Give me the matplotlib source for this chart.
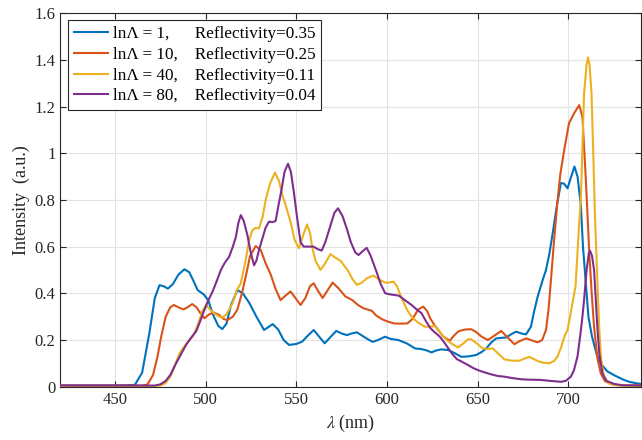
import numpy as np
import matplotlib
matplotlib.use("Agg")
import matplotlib.pyplot as plt

# =========================
# Data
# =========================
wl_ln1 = [420, 455, 461, 465, 469, 472, 474.6, 477, 479.2, 482, 485, 488.3, 491, 493.5, 495.6, 499,
          501.5, 504, 507, 509.2, 511.5, 514, 517.5, 520.5, 524, 528, 532.2, 537, 540, 543, 546, 550,
          553.2, 556.5, 559.6, 562.5, 565.6, 568.5, 572, 575, 577.9, 580.5, 583.4, 588, 592, 595,
          598.9, 602, 606.2, 611, 615.4, 619, 622, 624.5, 627, 630, 633.7, 637, 641, 645, 649.2, 652,
          654.7, 657.5, 660.2, 665.6, 668.5, 671.1, 674, 676.6, 679.3, 681, 683, 685.5, 687.6, 689.5,
          691.3, 693.5, 695.8, 697.5, 699.5, 701.5, 703.3, 705, 706.8, 708, 709.5, 711, 713, 715.5,
          717.7, 721.4, 725, 730.6, 734, 738, 740]
int_ln1 = [0.005, 0.005, 0.008, 0.06, 0.23, 0.38, 0.435, 0.43, 0.42, 0.44, 0.48, 0.503, 0.49, 0.45,
           0.414, 0.395, 0.37, 0.31, 0.26, 0.247, 0.27, 0.35, 0.414, 0.40, 0.36, 0.30, 0.243, 0.268,
           0.245, 0.20, 0.179, 0.183, 0.193, 0.22, 0.243, 0.215, 0.186, 0.21, 0.239, 0.228, 0.221,
           0.228, 0.233, 0.21, 0.192, 0.20, 0.214, 0.205, 0.20, 0.185, 0.164, 0.161, 0.155, 0.147,
           0.155, 0.16, 0.157, 0.145, 0.128, 0.13, 0.136, 0.148, 0.164, 0.19, 0.207, 0.211, 0.225,
           0.236, 0.228, 0.224, 0.257, 0.32, 0.385, 0.45, 0.50, 0.57, 0.657, 0.77, 0.872, 0.87, 0.85,
           0.90, 0.943, 0.90, 0.78, 0.60, 0.45, 0.30, 0.214, 0.14, 0.10, 0.066, 0.05, 0.029, 0.02,
           0.014, 0.012]

wl_ln10 = [420, 465, 468, 471, 473.5, 475.5, 478, 480.5, 482.5, 485, 487.8, 490, 492.6, 495, 497.5,
           499.3, 502, 504.5, 507.5, 510, 512, 515, 517.5, 520, 522.1, 524.5, 527.6, 530.4, 533,
           535.9, 538.5, 541.3, 544, 546.8, 549.5, 552.3, 555, 557.5, 559.6, 562, 564.5, 567, 570,
           573.3, 577, 581, 584, 587, 591.6, 594, 597, 600, 603.8, 607, 611.2, 614, 617.2, 620, 622,
           623.8, 626, 628.2, 631, 634.6, 637, 639.5, 643, 646.4, 649, 652, 655.6, 658.5, 662.9, 666,
           670.2, 673, 676.6, 680, 683, 685.5, 687.6, 689, 690.2, 692, 693.9, 695.5, 697.6, 700.3,
           703.1, 705.9, 707.7, 709.5, 711.4, 712.8, 714.1, 716, 717.8, 720, 723.3, 728, 740]
int_ln10 = [0.005, 0.005, 0.01, 0.05, 0.13, 0.214, 0.30, 0.34, 0.35, 0.34, 0.331, 0.34, 0.354, 0.34,
            0.31, 0.293, 0.31, 0.318, 0.307, 0.29, 0.285, 0.30, 0.33, 0.40, 0.471, 0.56, 0.602,
            0.585, 0.53, 0.48, 0.42, 0.371, 0.39, 0.408, 0.38, 0.35, 0.38, 0.43, 0.443, 0.41, 0.38,
            0.41, 0.446, 0.421, 0.387, 0.37, 0.35, 0.336, 0.325, 0.305, 0.29, 0.28, 0.271, 0.27,
            0.271, 0.29, 0.331, 0.343, 0.325, 0.293, 0.265, 0.243, 0.215, 0.197, 0.22, 0.238, 0.245,
            0.246, 0.235, 0.215, 0.20, 0.215, 0.239, 0.215, 0.182, 0.195, 0.207, 0.198, 0.19, 0.20,
            0.243, 0.33, 0.443, 0.62, 0.79, 0.91, 1.012, 1.128, 1.171, 1.206, 1.156, 0.90, 0.585,
            0.40, 0.257, 0.12, 0.057, 0.025, 0.012, 0.006, 0.005]

wl_ln40 = [420, 470, 475, 478, 481, 483.5, 485.6, 489, 492.8, 495.5, 498, 500.2, 502.5, 504.8, 507.5,
           509.3, 511.5, 514.8, 517, 519.4, 522.1, 524, 525.8, 527.5, 529.4, 531.5, 533.1, 535.5,
           538.2, 540.5, 542.3, 544.1, 547, 549, 551.4, 553.8, 555.9, 557.5, 558.7, 560.5, 563.3,
           566, 568.8, 571, 574.3, 576.1, 578.8, 581, 583.4, 586, 589, 592.5, 595.5, 598.9, 601,
           603.5, 605.5, 607.5, 609, 611, 613.5, 617, 620.9, 623.5, 626.3, 628.5, 631, 633.7, 636.5,
           639.1, 642, 644.6, 646.4, 649.5, 652.8, 655.5, 658.3, 661.5, 664.7, 668.5, 672.9, 675.5,
           678.4, 681, 683, 686, 689.4, 692, 693.9, 696, 698, 699.5, 702.2, 703.9, 705.9, 706.8,
           708.6, 710, 710.8, 711.6, 712.7, 713.5, 714.5, 715.7, 716.9, 718, 719.6, 722, 725.1, 740]
int_ln40 = [0.002, 0.002, 0.005, 0.015, 0.05, 0.10, 0.143, 0.18, 0.214, 0.26, 0.32, 0.35, 0.33,
            0.314, 0.30, 0.296, 0.31, 0.357, 0.41, 0.443, 0.543, 0.628, 0.671, 0.68, 0.678, 0.73,
            0.80, 0.87, 0.917, 0.88, 0.82, 0.778, 0.70, 0.63, 0.593, 0.65, 0.695, 0.66, 0.60, 0.54,
            0.50, 0.53, 0.568, 0.555, 0.54, 0.521, 0.493, 0.46, 0.436, 0.445, 0.465, 0.476, 0.46,
            0.446, 0.446, 0.45, 0.43, 0.39, 0.364, 0.33, 0.30, 0.275, 0.257, 0.257, 0.26, 0.24,
            0.215, 0.195, 0.18, 0.168, 0.185, 0.203, 0.203, 0.185, 0.164, 0.162, 0.164, 0.14, 0.117,
            0.112, 0.111, 0.12, 0.128, 0.118, 0.11, 0.103, 0.10, 0.11, 0.128, 0.17, 0.22, 0.243,
            0.357, 0.43, 0.70, 0.80, 1.256, 1.38, 1.41, 1.38, 1.256, 1.05, 0.757, 0.50, 0.257, 0.12,
            0.043, 0.015, 0.007, 0.002]

wl_ln80 = [420, 472, 475, 478, 480.5, 483.7, 486.5, 489.2, 492, 494.7, 497, 499.3, 501.5, 503.8, 506,
           508.4, 510.5, 513, 515, 516.7, 518, 519.4, 521, 523, 525, 526.7, 528, 529.4, 531.3, 533,
           534.9, 537, 538.6, 540, 541.8, 543.5, 545.4, 547, 548.6, 550.5, 552.3, 554, 555.9, 557.8,
           559.6, 561.5, 564, 566, 568.8, 571, 573, 575.5, 577.9, 580, 582.5, 584.3, 586.5, 588.8,
           591, 594.3, 596.5, 599, 602, 606.5, 610, 613.5, 616.5, 619, 621.5, 623.8, 626, 629, 631.5,
           633.7, 636, 638.5, 641, 644.6, 647.5, 650.1, 653.5, 657.4, 661, 664.7, 669, 673.9, 679,
           684.8, 690, 695.8, 698.5, 701.3, 703, 705, 706.5, 707.7, 708.6, 710, 711.2, 711.9, 713,
           714.1, 715, 715.9, 717, 718.7, 721, 725.1, 730, 740]
int_ln80 = [0.005, 0.005, 0.01, 0.025, 0.05, 0.10, 0.14, 0.179, 0.21, 0.236, 0.28, 0.329, 0.37,
            0.407, 0.45, 0.50, 0.53, 0.557, 0.60, 0.642, 0.70, 0.735, 0.71, 0.65, 0.57, 0.52, 0.54,
            0.585, 0.635, 0.68, 0.707, 0.705, 0.71, 0.77, 0.842, 0.92, 0.955, 0.92, 0.835, 0.72,
            0.62, 0.60, 0.60, 0.60, 0.60, 0.59, 0.583, 0.62, 0.69, 0.745, 0.764, 0.73, 0.675, 0.62,
            0.575, 0.564, 0.58, 0.595, 0.56, 0.49, 0.44, 0.40, 0.395, 0.39, 0.37, 0.35, 0.33, 0.315,
            0.28, 0.252, 0.235, 0.215, 0.19, 0.165, 0.14, 0.118, 0.108, 0.093, 0.08, 0.071, 0.062,
            0.053, 0.046, 0.043, 0.037, 0.032, 0.03, 0.029, 0.025, 0.021, 0.025, 0.043, 0.07, 0.13,
            0.22, 0.30, 0.371, 0.50, 0.57, 0.582, 0.56, 0.50, 0.38, 0.257, 0.14, 0.057, 0.025,
            0.012, 0.006, 0.005]

labels = ["ln\u039b = 1,      Reflectivity=0.35",
          "ln\u039b = 10,    Reflectivity=0.25",
          "ln\u039b = 40,    Reflectivity=0.11",
          "ln\u039b = 80,    Reflectivity=0.04"]
colors = ["#0072BD", "#D95319", "#EDB120", "#7E2F8E"]

x_ticks = [450, 500, 550, 600, 650, 700]
y_ticks = [0, 0.2, 0.4, 0.6, 0.8, 1.0, 1.2, 1.4, 1.6]

# =========================
# Plot
# =========================
plt.rcParams["font.family"] = ["Liberation Serif", "DejaVu Serif"]
plt.rcParams["mathtext.fontset"] = "stix"
plt.rcParams["font.size"] = 12

fig = plt.figure(figsize=(6.42, 4.40), dpi=100)
ax = fig.add_axes([0.0942, 0.1211, 0.9043, 0.8491])

series = [(wl_ln1, int_ln1), (wl_ln10, int_ln10), (wl_ln40, int_ln40), (wl_ln80, int_ln80)]
for (wl, it), c, lab in zip(series, colors, labels):
    ax.plot(wl, it, color=c, lw=1.5, label=lab, zorder=3)

ax.set_xlim(420, 740)
ax.set_ylim(0, 1.6)
ax.set_xticks(x_ticks)
ax.set_yticks(y_ticks)
ax.set_yticklabels(["%g" % v for v in y_ticks])

ax.grid(True, color="#e3e3e3", lw=0.8, zorder=0)
ax.set_axisbelow(True)
for s in ax.spines.values():
    s.set_color("#262626")
    s.set_linewidth(0.8)
ax.tick_params(direction="in", top=True, right=True, length=4, width=0.8,
               color="#262626", labelcolor="#262626", labelsize=12)

ax.set_xlabel(r"$\lambda$ (nm)", fontsize=13, color="#262626", labelpad=4)
ax.set_ylabel("Intensity  (a.u.)", fontsize=13, color="#262626", labelpad=3)

leg = ax.legend(loc="upper left", bbox_to_anchor=(0.0134, 0.9815), borderaxespad=0,
                fontsize=12.3, handlelength=2.0, handletextpad=0.25, labelspacing=0.28,
                borderpad=0.35, fancybox=False, framealpha=1, edgecolor="#262626")
leg.get_frame().set_linewidth(0.8)

fig.savefig("out.png", dpi=100)
